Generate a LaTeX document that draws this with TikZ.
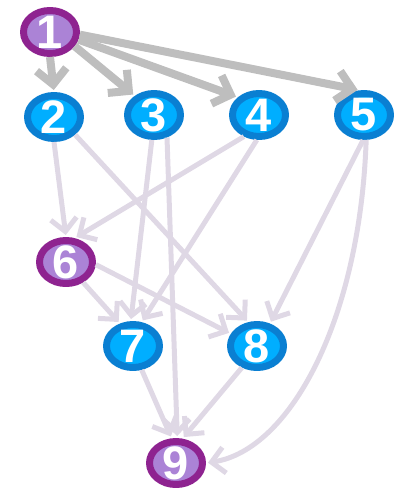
\documentclass[tikz,border=0pt]{standalone}
\usepackage{fontspec}
\setmainfont{Liberation Sans}
\usetikzlibrary{shapes.geometric}
\usetikzlibrary{arrows.meta}

\definecolor{purpleedge}{HTML}{8E2390}
\definecolor{purplefill}{HTML}{AB83D6}
\definecolor{blueedge}{HTML}{0A7FD2}
\definecolor{bluefill}{HTML}{00AEFF}
\definecolor{topgray}{HTML}{BEBEBE}
\definecolor{lowgray}{HTML}{DFD8E5}

\begin{document}
\begin{tikzpicture}[x=1pt, y=-1pt, % pixel-like units, y grows downwards
                    line join=round,
                    vert/.style = {ellipse, line width=7pt, minimum width=53pt, minimum height=43pt,
                                   inner sep=0pt, label={[numlabel]center:#1}},
                    numlabel/.style = {text=white, inner sep=0pt,
                                       font=\fontsize{47}{47}\selectfont\bfseries},
                    purplevert/.style = {vert=#1, draw=purpleedge, fill=purplefill},
                    bluevert/.style = {vert=#1, draw=blueedge, fill=bluefill},
                    toparrow/.style = {draw=topgray, line width=8pt, shorten >=2pt,
                                       -{Straight Barb[length=15pt,width=30pt]}},
                    lowarrow/.style = {draw=lowgray, line width=5pt, shorten >=2pt,
                                       -{Straight Barb[length=13pt,width=26pt]}}
                   ]
  \useasboundingbox (0,0) rectangle (395,490);

  % vertices
  \node[purplevert=1] (n1) at (50,32) {};
  \node[bluevert=2]   (n2) at (54,117) {};
  \node[bluevert=3]   (n3) at (154,115) {};
  \node[bluevert=4]   (n4) at (259,115) {};
  \node[bluevert=5]   (n5) at (364,115) {};
  \node[purplevert=6] (n6) at (66,262) {};
  \node[bluevert=7]   (n7) at (133,346) {};
  \node[bluevert=8]   (n8) at (257,346) {};
  \node[purplevert=9] (n9) at (176,463) {};

  % edges out of the root
  \draw[toparrow] (n1.south) -- (n2.north);
  \draw[toparrow] (n1.-30) -- (n3.135);
  \draw[toparrow] (n1.-15) -- (n4.140);
  \draw[toparrow] (n1.-5)  -- (n5.100);

  % remaining edges
  \draw[lowarrow] (n2.south) -- (n6.north);
  \draw[lowarrow] (n4.235) -- (n6.70);
  \draw[lowarrow] (n2.-40) -- (n8.110);
  \draw[lowarrow] (n3.265) -- (n7.95);
  \draw[lowarrow] (n3.-60) -- (n9.87);
  \draw[lowarrow] (n4.265) -- (n7.70);
  \draw[lowarrow] (n5.268) -- (n8.60);
  \draw[lowarrow] (n5.-85) .. controls (360,320) and (290,450) .. (n9.east);
  \draw[lowarrow] (n6.-50) -- (n7.120);
  \draw[lowarrow] (n6.-5)  -- (n8.155);
  \draw[lowarrow] (n7.-70) -- (n9.100);
  \draw[lowarrow] (n8.-125) -- (n9.75);
\end{tikzpicture}
\end{document}
